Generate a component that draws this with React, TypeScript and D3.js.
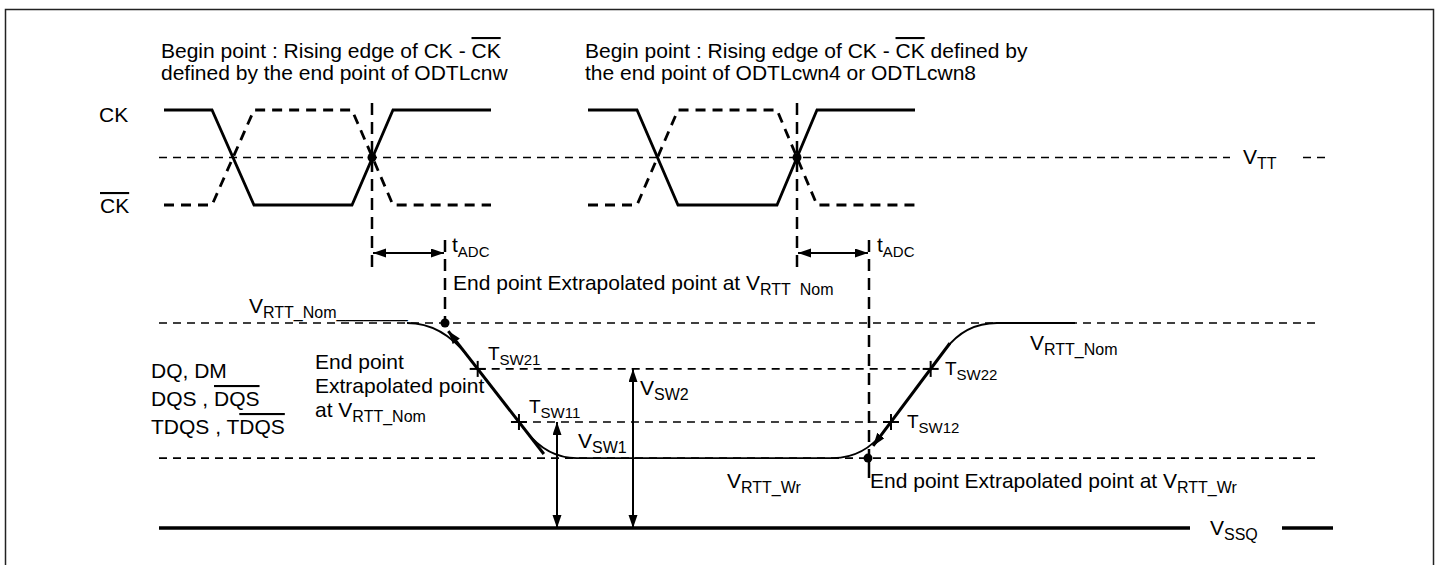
import React, { useEffect, useRef } from 'react'
import * as d3 from 'd3'

const width = 1444
const height = 565

// time axis in arbitrary units, 0 = left end of the reference lines
const ckTimes1 = [5, 53, 95, 193, 234, 332]
const ckTimes2 = [429, 478, 519, 618, 658, 756]
const ckLevels = [1, 1, 0, 0, 1, 1]
const ckBarLevels = [0, 0, 1, 1, 0, 0]
const vttLevel = 0.5
const beginTimes = [213, 638]
const endTimes = [286, 710]

// DQ levels, VSSQ = 0 and VRTT_Nom = 1
const levelNom = 1
const levelSw2 = 0.776
const levelSw1 = 0.517
const levelWr = 0.341
const levelSsq = 0

// extrapolated edges: [time at VRTT_Nom, time at VRTT_Wr]
const fallEdge = [283, 388]
const riseEdge = [806, 705]
const dqStart = 248
const dqEnd = 916
const vswTimes = [398, 474]
const vttSegments = [[0, 1071], [1144, 1168]]
const vssqSegments = [[0, 1031], [1123, 1174]]

type Part = { text: string; sub?: boolean; over?: boolean }

const App = () => {
	const ref = useRef<SVGSVGElement>(null)

	useEffect(() => {
		if (!ref.current) return
		const svg = d3.select(ref.current)
		svg.selectAll('*').remove()

		const x = d3.scaleLinear().domain([0, 1161]).range([159, 1320])
		const yCk = d3.scaleLinear().domain([0, 1]).range([205, 110])
		const yDq = d3.scaleLinear().domain([0, 1]).range([528, 323])

		const defs = svg.append('defs')
		defs
			.append('marker')
			.attr('id', 'arrow')
			.attr('markerUnits', 'userSpaceOnUse')
			.attr('markerWidth', 14)
			.attr('markerHeight', 10)
			.attr('refX', 13)
			.attr('refY', 4.5)
			.attr('orient', 'auto-start-reverse')
			.append('path')
			.attr('d', 'M0,0 L13,4.5 L0,9 Z')
			.attr('fill', '#000')

		// frame
		svg
			.append('rect')
			.attr('x', 5.5)
			.attr('y', 9.5)
			.attr('width', 1428)
			.attr('height', 570)
			.attr('fill', 'none')
			.attr('stroke', '#222')
			.attr('stroke-width', 1.5)

		const hline = (t0, t1, y, dash, w) =>
			svg
				.append('line')
				.attr('x1', x(t0))
				.attr('x2', x(t1))
				.attr('y1', y)
				.attr('y2', y)
				.attr('stroke', '#000')
				.attr('stroke-width', w)
				.attr('stroke-dasharray', dash)

		const vline = (t, y0, y1, dash, w) =>
			svg
				.append('line')
				.attr('x1', x(t))
				.attr('x2', x(t))
				.attr('y1', y0)
				.attr('y2', y1)
				.attr('stroke', '#000')
				.attr('stroke-width', w)
				.attr('stroke-dasharray', dash)

		// reference levels
		vttSegments.forEach(([a, b]) => hline(a, b, yCk(vttLevel), '8,6', 1.6))
		hline(0, 1161, yDq(levelNom), '8,6', 1.6)
		hline(0, 1161, yDq(levelWr), '8,6', 1.6)
		vssqSegments.forEach(([a, b]) => hline(a, b, yDq(levelSsq), null, 3.5))

		const edgeT = (edge, level) =>
			edge[1] + ((edge[0] - edge[1]) * (level - levelWr)) / (levelNom - levelWr)

		hline(edgeT(fallEdge, levelSw2), edgeT(riseEdge, levelSw2), yDq(levelSw2), '8,6', 1.6)
		hline(edgeT(fallEdge, levelSw1), edgeT(riseEdge, levelSw1), yDq(levelSw1), '8,6', 1.6)

		// clocks
		const ckLine = d3
			.line<number>()
			.x(d => x(d[0]))
			.y(d => yCk(d[1]))
		;[ckTimes1, ckTimes2].forEach(times => {
			svg
				.append('path')
				.attr('d', ckLine(times.map((t, i) => [t, ckLevels[i]])))
				.attr('fill', 'none')
				.attr('stroke', '#000')
				.attr('stroke-width', 2.8)
			svg
				.append('path')
				.attr('d', ckLine(times.map((t, i) => [t, ckBarLevels[i]])))
				.attr('fill', 'none')
				.attr('stroke', '#000')
				.attr('stroke-width', 2.8)
				.attr('stroke-dasharray', '10,7')
		})

		// begin / end point markers and tADC arrows
		beginTimes.forEach((t, i) => {
			vline(t, 103, 271, '12,7', 2.5)
			vline(endTimes[i], 240, i === 0 ? yDq(levelNom) : yDq(levelWr), '12,7', 2.5)
			svg
				.append('line')
				.attr('x1', x(t) + 1)
				.attr('x2', x(endTimes[i]) - 1)
				.attr('y1', 253)
				.attr('y2', 253)
				.attr('stroke', '#000')
				.attr('stroke-width', 2)
				.attr('marker-start', 'url(#arrow)')
				.attr('marker-end', 'url(#arrow)')
			svg
				.append('circle')
				.attr('cx', x(t))
				.attr('cy', yCk(vttLevel))
				.attr('r', 4.5)
		})
		vline(endTimes[1], yDq(levelWr), 478, null, 2.5)

		// DQ waveform (thin, rounded)
		const p = d3.path()
		const ptF = lv => [x(edgeT(fallEdge, lv)), yDq(lv)]
		const ptR = lv => [x(edgeT(riseEdge, lv)), yDq(lv)]
		const span = levelNom - levelWr
		p.moveTo(x(dqStart), yDq(levelNom))
		p.quadraticCurveTo(x(fallEdge[0]), yDq(levelNom), ...ptF(levelNom - 0.25 * span))
		p.lineTo(...ptF(levelNom - 0.8 * span))
		p.quadraticCurveTo(x(fallEdge[1]), yDq(levelWr), x(fallEdge[1] + 30), yDq(levelWr))
		p.lineTo(x(riseEdge[1] - 31), yDq(levelWr))
		p.quadraticCurveTo(x(riseEdge[1]), yDq(levelWr), ...ptR(levelWr + 0.2 * span))
		p.lineTo(...ptR(levelWr + 0.8 * span))
		p.quadraticCurveTo(x(riseEdge[0]), yDq(levelNom), x(riseEdge[0] + 32), yDq(levelNom))
		p.lineTo(x(dqEnd), yDq(levelNom))
		svg
			.append('path')
			.attr('d', p.toString())
			.attr('fill', 'none')
			.attr('stroke', '#000')
			.attr('stroke-width', 1.8)

		// thick extrapolation lines
		const thick = (a, b) =>
			svg
				.append('line')
				.attr('x1', a[0])
				.attr('y1', a[1])
				.attr('x2', b[0])
				.attr('y2', b[1])
				.attr('stroke', '#000')
				.attr('stroke-width', 3)
				.attr('marker-start', 'url(#arrow)')
		thick(ptF(levelNom - 0.06 * span), ptF(levelNom - 0.97 * span))
		thick(ptR(levelWr + 0.09 * span), ptR(levelWr + 0.85 * span))

		// crossing ticks
		;[ptF(levelSw2), ptF(levelSw1), ptR(levelSw2), ptR(levelSw1)].forEach(([cx, cy]) => {
			svg.append('line').attr('x1', cx - 8).attr('x2', cx + 8).attr('y1', cy).attr('y2', cy).attr('stroke', '#000').attr('stroke-width', 2)
			svg.append('line').attr('x1', cx).attr('x2', cx).attr('y1', cy - 8).attr('y2', cy + 8).attr('stroke', '#000').attr('stroke-width', 2)
		})

		// end point dots
		svg.append('circle').attr('cx', x(endTimes[0])).attr('cy', yDq(levelNom)).attr('r', 4.5)
		svg.append('circle').attr('cx', x(endTimes[1]) - 1).attr('cy', yDq(levelWr)).attr('r', 4.5)

		// VSW arrows
		;[levelSw1, levelSw2].forEach((lv, i) => {
			svg
				.append('line')
				.attr('x1', x(vswTimes[i]))
				.attr('x2', x(vswTimes[i]))
				.attr('y1', yDq(lv))
				.attr('y2', yDq(levelSsq))
				.attr('stroke', '#000')
				.attr('stroke-width', 2)
				.attr('marker-start', 'url(#arrow)')
				.attr('marker-end', 'url(#arrow)')
		})

		// text
		const label = (lx, ly, parts: Part[], size = 21, subSize = 16) => {
			const t = svg
				.append('text')
				.attr('x', lx)
				.attr('y', ly)
				.attr('font-size', size)
				.attr('fill', '#000')
			let shifted = false
			parts.forEach(part => {
				const s = t.append('tspan').text(part.text)
				if (part.sub) {
					s.attr('font-size', subSize)
					if (!shifted) s.attr('dy', 5)
					shifted = true
				} else if (shifted) {
					s.attr('dy', -5)
					shifted = false
				}
				if (part.over) s.style('text-decoration', 'overline')
			})
		}

		label(161, 58, [{ text: 'Begin point : Rising edge of CK - ' }, { text: 'CK', over: true }])
		label(161, 80, [{ text: 'defined by the end point of ODTLcnw' }])
		label(585, 58, [
			{ text: 'Begin point : Rising edge of CK - ' },
			{ text: 'CK', over: true },
			{ text: ' defined by' }
		])
		label(585, 80, [{ text: 'the end point of ODTLcwn4 or ODTLcwn8' }])
		label(99, 122, [{ text: 'CK' }])
		label(100, 213, [{ text: 'CK', over: true }])
		label(1243, 164, [{ text: 'V' }, { text: 'TT', sub: true }])
		label(452, 252, [{ text: 't' }, { text: 'ADC', sub: true }], 21, 15)
		label(877, 252, [{ text: 't' }, { text: 'ADC', sub: true }], 21, 15)
		label(453, 290, [{ text: 'End point Extrapolated point at V' }, { text: 'RTT\u00a0\u00a0Nom', sub: true }])
		label(249, 313, [{ text: 'V' }, { text: 'RTT_Nom________', sub: true }])
		label(315, 369, [{ text: 'End point' }])
		label(315, 393, [{ text: 'Extrapolated point' }])
		label(315, 417, [{ text: 'at V' }, { text: 'RTT_Nom', sub: true }])
		label(151, 378, [{ text: 'DQ, DM' }])
		label(151, 406, [{ text: 'DQS , ' }, { text: 'DQS', over: true }])
		label(151, 434, [{ text: 'TDQS , T' }, { text: 'DQS', over: true }])
		label(488, 360, [{ text: 'T' }, { text: 'SW21', sub: true }], 19, 15)
		label(529, 413, [{ text: 'T' }, { text: 'SW11', sub: true }], 19, 15)
		label(945, 375, [{ text: 'T' }, { text: 'SW22', sub: true }], 19, 15)
		label(907, 428, [{ text: 'T' }, { text: 'SW12', sub: true }], 19, 15)
		label(640, 395, [{ text: 'V' }, { text: 'SW2', sub: true }])
		label(578, 448, [{ text: 'V' }, { text: 'SW1', sub: true }])
		label(727, 488, [{ text: 'V' }, { text: 'RTT_Wr', sub: true }])
		label(1030, 350, [{ text: 'V' }, { text: 'RTT_Nom', sub: true }])
		label(870, 488, [{ text: 'End point Extrapolated point at V' }, { text: 'RTT_Wr', sub: true }])
		label(1210, 535, [{ text: 'V' }, { text: 'SSQ', sub: true }])
	}, [])

	return (
		<svg
			ref={ref}
			width={width}
			height={height}
			style={{
				position: 'absolute',
				left: 0,
				top: 0,
				background: '#fff',
				fontFamily: "'Liberation Sans', Arial, sans-serif"
			}}
		></svg>
	)
}

export default App
